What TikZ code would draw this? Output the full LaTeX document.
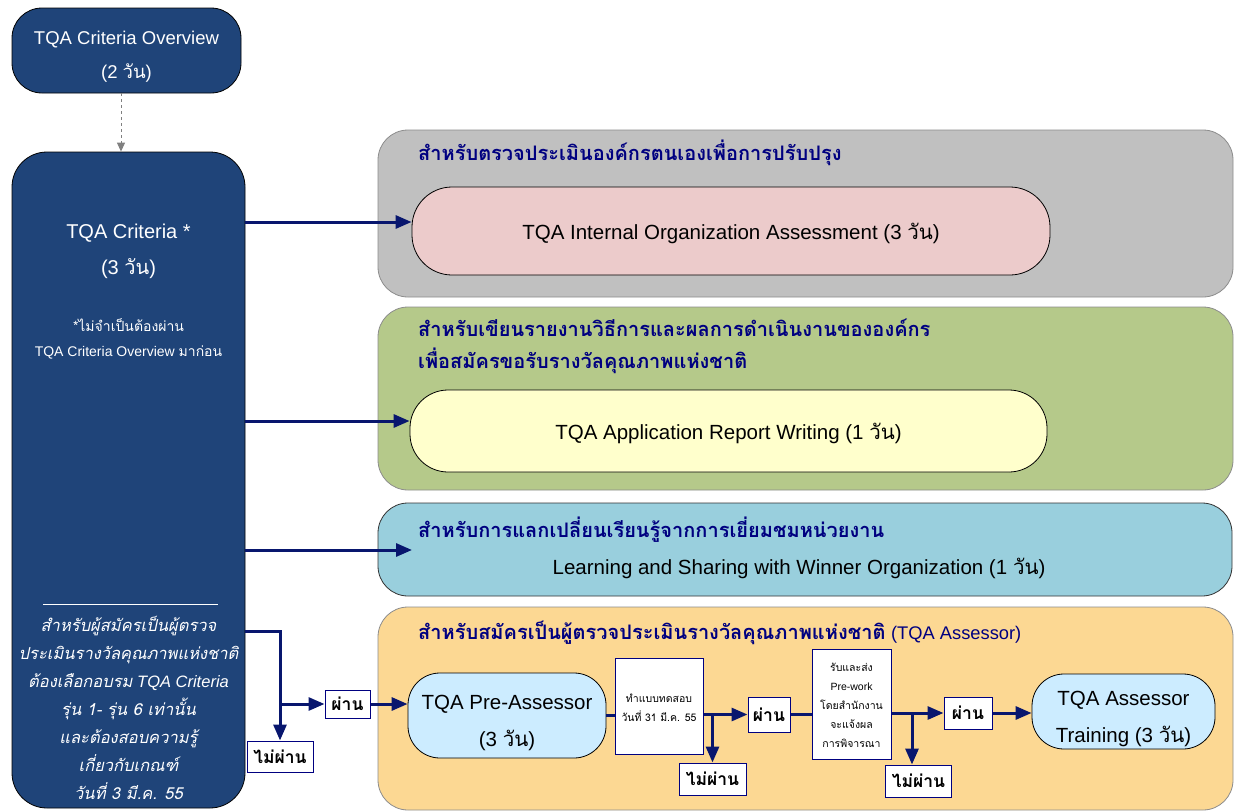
\documentclass[tikz,border=0pt]{standalone}
\usepackage{fontspec}
\setmainfont{Liberation Sans}
\newfontfamily\thaifont[Script=Thai]{Loma}
\newcommand\tht[1]{{\thaifont #1}}
\newcommand\fsz[2]{\fontsize{#1}{#2}\selectfont}
\newcommand\lowerby[2]{\raisebox{-#1}[\height][\depth]{\begin{tabular}{@{}c@{}}#2\end{tabular}}}
\usetikzlibrary{arrows.meta}
\definecolor{dblue}{RGB}{31,68,121}
\definecolor{navyc}{RGB}{0,0,128}
\definecolor{arrc}{RGB}{8,22,110}
\definecolor{grayg}{RGB}{192,192,192}
\definecolor{greeng}{RGB}{181,201,138}
\definecolor{tealg}{RGB}{153,207,221}
\definecolor{orangeg}{RGB}{252,216,147}
\definecolor{pinkb}{RGB}{236,203,203}
\definecolor{yellowb}{RGB}{255,255,204}
\definecolor{lblue}{RGB}{204,236,255}
\tikzset{
  darkbox/.style={draw=black, fill=dblue, rounded corners=30pt, text=white, line width=0.8pt, align=center, inner sep=0pt},
  groupbox/.style={draw=black!45, fill=#1, rounded corners=30pt, line width=0.8pt, inner sep=0pt},
  pill/.style={draw=black, fill=#1, align=center, line width=0.8pt, inner sep=0pt},
  smallbox/.style={draw=navyc, fill=white, line width=1pt, inner sep=0pt, align=center},
  arr/.style={draw=arrc, line width=3pt, -{Triangle[length=16pt,width=13pt]}},
  ln/.style={draw=arrc, line width=3pt},
  ttl/.style={anchor=west, inner sep=0pt, text=navyc, align=left, font=\fsz{20}{32}},
  txt/.style={inner sep=0pt, align=center},
  passf/.style={font=\fsz{17.5}{20}}
}
\begin{document}
\begin{tikzpicture}[x=1pt,y=-1pt]
\useasboundingbox (0,0) rectangle (1234,811);

% left column
\node[darkbox, minimum width=229pt, minimum height=85pt, font=\fsz{18.5}{34}] (ov) at (126.5,50.5)
  {\lowerby{4pt}{TQA Criteria Overview\\(2 \tht{วัน})}};
\node[darkbox, rounded corners=35pt, minimum width=233pt, minimum height=656pt] (crit) at (128.5,480) {};
\node[txt, text=white, font=\fsz{20}{36}] (critT) at (128.5,251.5) {TQA Criteria *\\(3 \tht{วัน})};
\node[txt, text=white, font=\fsz{14}{25}] (critN) at (128.5,339) {\tht{*ไม่จำเป็นต้องผ่าน}\\TQA Criteria Overview \tht{มาก่อน}};
\draw[white, line width=1pt] (43,604) -- (218,604);
\node[txt, text=white, font=\fsz{16.5}{28}\itshape] (critI) at (128.5,708) {%
  \tht{\itshape สำหรับผู้สมัครเป็นผู้ตรวจ}\\
  \tht{\itshape ประเมินรางวัลคุณภาพแห่งชาติ}\\
  \tht{\itshape ต้องเลือกอบรม} TQA Criteria\\
  \tht{\itshape รุ่น 1- รุ่น 6 เท่านั้น}\\
  \tht{\itshape และต้องสอบความรู้}\\
  \tht{\itshape เกี่ยวกับเกณฑ์}\\
  \tht{\itshape วันที่ 3 มี.ค. 55}};

\draw[gray, dashed, line width=1pt, -{Triangle[length=9pt,width=8pt]}]
  ([xshift=-5.5pt]ov.south) -- ([xshift=-5.5pt]ov.south |- crit.north);

% group boxes
\node[groupbox=grayg, minimum width=855pt, minimum height=167pt] (g1) at (805.5,213.5) {};
\node[groupbox=greeng, minimum width=855pt, minimum height=183pt] (g2) at (805.5,398.5) {};
\node[groupbox=tealg, draw=black!80, minimum width=854pt, minimum height=93pt] (g3) at (805,549.5) {};
\node[groupbox=orangeg, minimum width=855pt, minimum height=203pt] (g4) at (805.5,708.5) {};

% titles
\node[ttl] (t1) at (418,153) {\tht{\bfseries สำหรับตรวจประเมินองค์กรตนเองเพื่อการปรับปรุง}};
\node[ttl] (t2) at (418,346) {\tht{\bfseries สำหรับเขียนรายงานวิธีการและผลการดำเนินงานขององค์กร}\\\tht{\bfseries เพื่อสมัครขอรับรางวัลคุณภาพแห่งชาติ}};
\node[ttl] (t3) at (418,530) {\tht{\bfseries สำหรับการแลกเปลี่ยนเรียนรู้จากการเยี่ยมชมหน่วยงาน}};
\node[ttl] (t4) at (418,633) {\tht{\bfseries สำหรับสมัครเป็นผู้ตรวจประเมินรางวัลคุณภาพแห่งชาติ} {\fsz{18.3}{32}(TQA Assessor)}};

% inner nodes
\node[pill=pinkb, rounded corners=40pt, minimum width=638pt, minimum height=88pt, font=\fsz{20.5}{24}] (pink) at (731,231)
  {\lowerby{3.5pt}{TQA Internal Organization Assessment (3 \tht{วัน})}};
\node[pill=yellowb, rounded corners=38pt, minimum width=637pt, minimum height=82pt, font=\fsz{20.5}{24}] (yel) at (728.5,431)
  {\lowerby{3.5pt}{TQA Application Report Writing (1 \tht{วัน})}};
\node[txt, font=\fsz{20.5}{24}] (learn) at (799,568.5) {Learning and Sharing with Winner Organization (1 \tht{วัน})};

\node[pill=lblue, rounded corners=32pt, minimum width=198pt, minimum height=85pt, font=\fsz{20.5}{37}] (pre) at (507,715.5)
  {\lowerby{5pt}{TQA Pre-Assessor\\(3 \tht{วัน})}};
\node[smallbox, minimum width=88pt, minimum height=96pt, font=\fsz{10.5}{19}] (test) at (659,706)
  {\lowerby{2.5pt}{\tht{ทำแบบทดสอบ}\\\tht{วันที่ 31 มี.ค. 55}}};
\node[smallbox, passf, minimum width=42pt, minimum height=35pt] (pass1) at (769,714.5) {\tht{\bfseries ผ่าน}};
\node[smallbox, passf, minimum width=67pt, minimum height=32pt] (fail1) at (712.5,779) {\tht{\bfseries ไม่ผ่าน}};
\node[smallbox, minimum width=79pt, minimum height=110pt, font=\fsz{10.5}{19}] (work) at (851.5,704)
  {\lowerby{1.5pt}{\tht{รับและส่ง}\\Pre-work\\\tht{โดยสำนักงาน}\\\tht{จะแจ้งผล}\\\tht{การพิจารณา}}};
\node[smallbox, passf, minimum width=48pt, minimum height=32pt] (pass2) at (968,713) {\tht{\bfseries ผ่าน}};
\node[smallbox, passf, minimum width=66pt, minimum height=32pt] (fail2) at (918.5,781) {\tht{\bfseries ไม่ผ่าน}};
\node[pill=lblue, rounded corners=32pt, minimum width=183pt, minimum height=75pt, font=\fsz{20.5}{37}] (asr) at (1123.5,711.5)
  {\lowerby{5pt}{TQA Assessor\\Training (3 \tht{วัน})}};
\node[smallbox, passf, minimum width=45pt, minimum height=28pt] (pass0) at (347.5,704) {\tht{\bfseries ผ่าน}};
\node[smallbox, passf, minimum width=66pt, minimum height=31pt] (fail0) at (280,756.5) {\tht{\bfseries ไม่ผ่าน}};

% connectors from TQA Criteria
\coordinate (p1) at ([yshift=9pt]pink.west);
\coordinate (p2) at ([yshift=10pt]yel.west);
\coordinate (p3) at (412,550);
\draw[arr] (crit.east |- p1) -- (p1);
\draw[arr] (crit.east |- p2) -- (p2);
\draw[arr] (crit.east |- p3) -- (p3);
\coordinate (s4) at (crit.east |- 0,631);
\coordinate (k4) at (fail0.north |- s4);
\coordinate (b4) at (fail0.north |- pass0.west);
\draw[arr] (s4) -- (k4) -- (fail0.north);
\draw[arr] (b4) -- (pass0.west);
\draw[arr] (pass0.east) -- (pre.west |- pass0.east);

% assessor chain
\draw[ln] (pre.east) -- (test.west |- pre.east);
\draw[arr] (test.east |- pass1.west) -- (pass1.west);
\draw[arr] (fail1.north |- pass1.west) -- (fail1.north);
\draw[ln] (pass1.east) -- (work.west |- pass1.east);
\draw[arr] (work.east |- pass2.west) -- (pass2.west);
\coordinate (f2) at ([xshift=-6.5pt]fail2.north);
\draw[arr] (f2 |- pass2.west) -- (f2);
\draw[arr] (pass2.east) -- (asr.west |- pass2.east);
\end{tikzpicture}
\end{document}
